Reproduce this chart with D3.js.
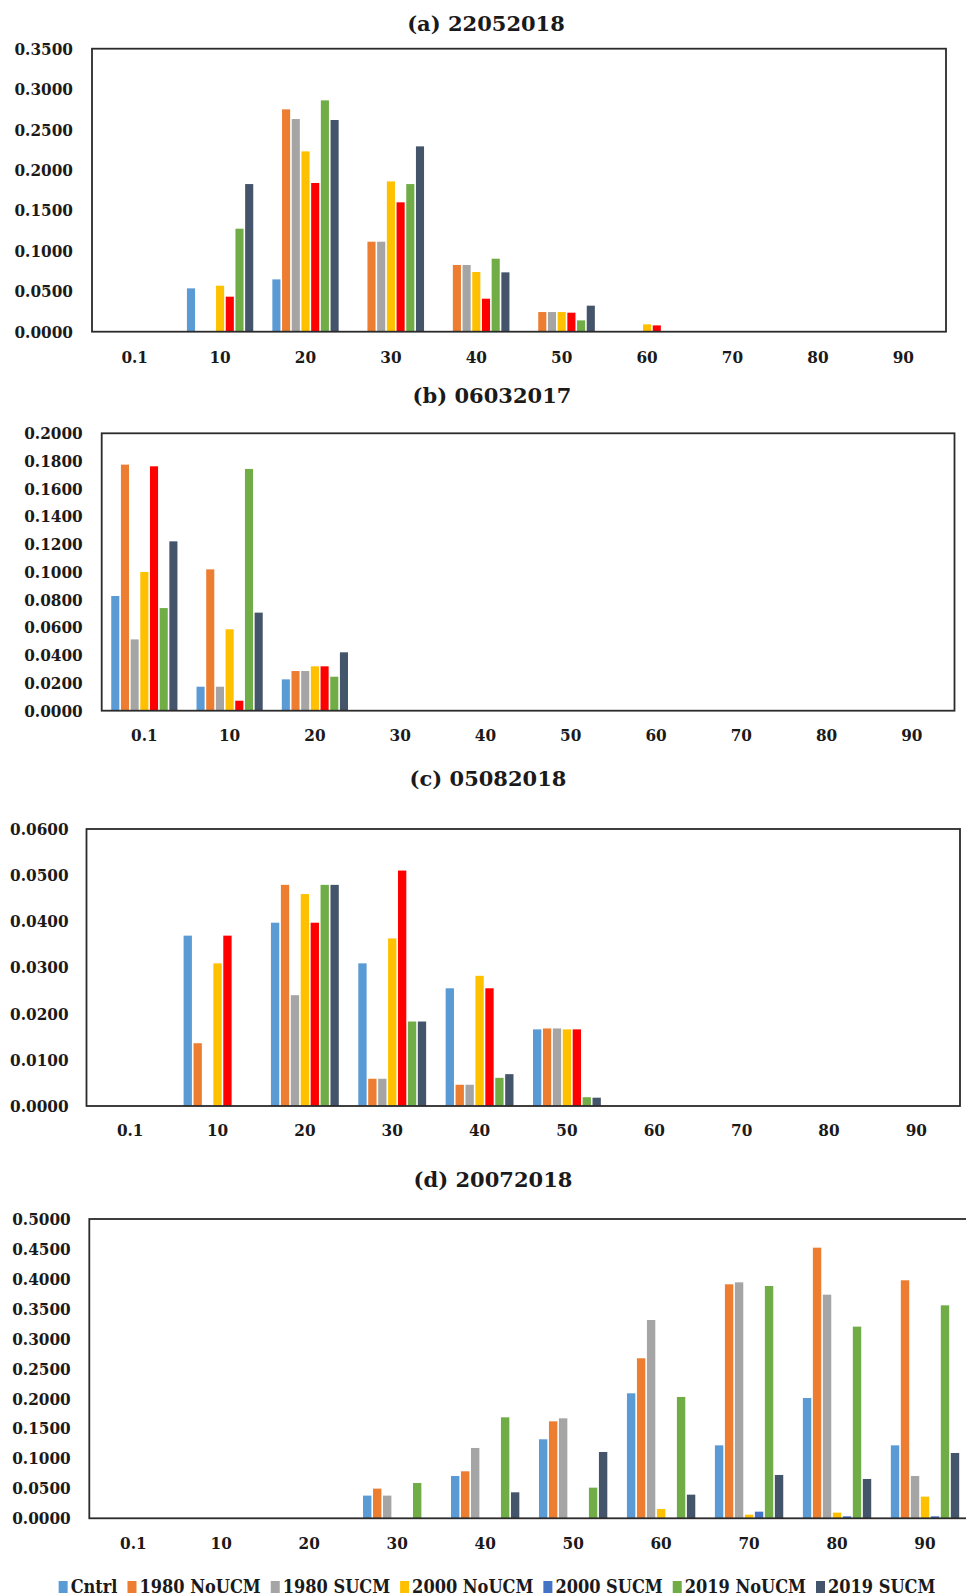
<!DOCTYPE html>
<html>
<head>
<meta charset="utf-8">
<script src="https://cdn.jsdelivr.net/npm/d3@7"></script>
<style>
    body { margin: 0; background: #fff; }
    svg text { font-family: "DejaVu Serif Condensed", "DejaVu Serif", serif; font-weight: bold; fill: #1a1a1a; }
    svg .title { font-family: "DejaVu Serif", serif; }
</style>
</head>
<body>
<div id="chart"></div>
<script>
var categories = ['0.1', '10', '20', '30', '40', '50', '60', '70', '80', '90'];
var seriesNames = ['Cntrl', '1980 NoUCM', '1980 SUCM', '2000 NoUCM', '2000 SUCM', '2019 NoUCM', '2019 SUCM'];

// panels a-c draw "2000 SUCM" in red, panel d (and the legend) in blue
var colorsRed = ['#5B9BD5', '#ED7D31', '#A5A5A5', '#FFC000', '#FF0000', '#70AD47', '#44546A'];
var colorsBlue = ['#5B9BD5', '#ED7D31', '#A5A5A5', '#FFC000', '#4472C4', '#70AD47', '#44546A'];

// one row per series (same order as seriesNames), one value per category
var values22052018 = [
    [0, 0.0536, 0.0647, 0, 0, 0, 0, 0, 0, 0],
    [0, 0, 0.2750, 0.1113, 0.0825, 0.0243, 0, 0, 0, 0],
    [0, 0, 0.2630, 0.1113, 0.0825, 0.0243, 0, 0, 0, 0],
    [0, 0.0569, 0.2230, 0.1859, 0.0738, 0.0243, 0.0091, 0, 0, 0],
    [0, 0.0433, 0.1839, 0.1600, 0.0408, 0.0235, 0.0078, 0, 0, 0],
    [0, 0.1274, 0.2861, 0.1826, 0.0903, 0.0140, 0, 0, 0, 0],
    [0, 0.1826, 0.2618, 0.2292, 0.0734, 0.0322, 0, 0, 0, 0]
];

var values06032017 = [
    [0.0827, 0.0173, 0.0226, 0, 0, 0, 0, 0, 0, 0],
    [0.1774, 0.1019, 0.0286, 0, 0, 0, 0, 0, 0, 0],
    [0.0514, 0.0173, 0.0286, 0, 0, 0, 0, 0, 0, 0],
    [0.1000, 0.0587, 0.0320, 0, 0, 0, 0, 0, 0, 0],
    [0.1762, 0.0072, 0.0320, 0, 0, 0, 0, 0, 0, 0],
    [0.0740, 0.1743, 0.0245, 0, 0, 0, 0, 0, 0, 0],
    [0.1221, 0.0707, 0.0421, 0, 0, 0, 0, 0, 0, 0]
];

var values05082018 = [
    [0, 0.0369, 0.0397, 0.0309, 0.0255, 0.0166, 0, 0, 0, 0],
    [0, 0.0136, 0.0479, 0.0059, 0.0046, 0.0168, 0, 0, 0, 0],
    [0, 0, 0.0240, 0.0059, 0.0046, 0.0168, 0, 0, 0, 0],
    [0, 0.0309, 0.0459, 0.0363, 0.0282, 0.0166, 0, 0, 0, 0],
    [0, 0.0369, 0.0397, 0.0510, 0.0255, 0.0166, 0, 0, 0, 0],
    [0, 0, 0.0479, 0.0183, 0.0061, 0.0019, 0, 0, 0, 0],
    [0, 0, 0.0479, 0.0183, 0.0069, 0.0018, 0, 0, 0, 0]
];

var values20072018 = [
    [0, 0, 0, 0.0379, 0.0707, 0.1320, 0.2088, 0.1219, 0.2010, 0.1219],
    [0, 0, 0, 0.0496, 0.0785, 0.1620, 0.2673, 0.3909, 0.4521, 0.3976],
    [0, 0, 0, 0.0379, 0.1175, 0.1670, 0.3313, 0.3942, 0.3736, 0.0707],
    [0, 0, 0, 0, 0, 0, 0.0156, 0.0061, 0.0095, 0.0362],
    [0, 0, 0, 0, 0, 0, 0, 0.0111, 0.0033, 0.0033],
    [0, 0, 0, 0.0590, 0.1687, 0.0512, 0.2027, 0.3881, 0.3202, 0.3558],
    [0, 0, 0, 0, 0.0434, 0.1108, 0.0395, 0.0724, 0.0657, 0.1091]
];

var panels = [
    {title: '(a) 22052018', values: values22052018, colors: colorsRed, yMax: 0.35, yStep: 0.05,
     left: 92, right: 946, top: 48.7, bottom: 331.7, labelRight: 73, xLabelY: 356.7, titleX: 486, titleY: 23.5},
    {title: '(b) 06032017', values: values06032017, colors: colorsRed, yMax: 0.2, yStep: 0.02,
     left: 101.7, right: 954.5, top: 433.3, bottom: 710.7, labelRight: 82.7, xLabelY: 735, titleX: 492, titleY: 395.5},
    {title: '(c) 05082018', values: values05082018, colors: colorsRed, yMax: 0.06, yStep: 0.01,
     left: 86.5, right: 960, top: 829, bottom: 1106, labelRight: 68.6, xLabelY: 1130, titleX: 488, titleY: 778.5},
    {title: '(d) 20072018', values: values20072018, colors: colorsBlue, yMax: 0.5, yStep: 0.05,
     left: 89.3, right: 969, top: 1219, bottom: 1518.3, labelRight: 70.7, xLabelY: 1543, titleX: 493, titleY: 1179.5}
];

var W = 966, H = 1596,
    tickFont = 17,
    titleFont = 21,
    legendFont = 18;

var svg = d3.select('#chart').append('svg')
    .attr('width', W)
    .attr('height', H);

svg.append('rect').attr('width', W).attr('height', H).attr('fill', '#fff');

panels.forEach(function(p) {
    var g = svg.append('g');

    var x = d3.scaleBand()
        .domain(categories)
        .range([p.left, p.right])
        .paddingInner(0.205)
        .paddingOuter(0.1025);

    var x1 = d3.scaleBand()
        .domain(d3.range(seriesNames.length))
        .range([0, x.bandwidth()]);

    var y = d3.scaleLinear()
        .domain([0, p.yMax])
        .range([p.bottom, p.top]);

    g.append('text')
        .attr('class', 'title')
        .attr('x', p.titleX)
        .attr('y', p.titleY)
        .attr('text-anchor', 'middle')
        .attr('dy', '0.35em')
        .style('font-size', titleFont + 'px')
        .text(p.title);

    // bars
    var rows = [];
    p.values.forEach(function(vals, si) {
        vals.forEach(function(v, ci) {
            if (v > 0) rows.push({s: si, c: categories[ci], v: v});
        });
    });

    g.append('g').selectAll('rect')
        .data(rows)
        .enter().append('rect')
        .attr('x', function(d) { return x(d.c) + x1(d.s) + 0.8; })
        .attr('width', x1.bandwidth() - 1.6)
        .attr('y', function(d) { return y(d.v); })
        .attr('height', function(d) { return p.bottom - y(d.v); })
        .attr('fill', function(d) { return p.colors[d.s]; });

    // y axis labels
    var yTicks = d3.range(0, p.yMax + p.yStep / 2, p.yStep);
    var yAxis = g.append('g')
        .attr('transform', 'translate(' + p.left + ',0)')
        .call(d3.axisLeft(y)
            .tickValues(yTicks)
            .tickSize(0)
            .tickPadding(p.left - p.labelRight)
            .tickFormat(d3.format('.4f')));
    yAxis.select('.domain').remove();
    yAxis.selectAll('text').style('font-size', tickFont + 'px').attr('fill', null);

    // x axis labels
    var xAxis = g.append('g')
        .attr('transform', 'translate(0,' + p.bottom + ')')
        .call(d3.axisBottom(x)
            .tickSize(0)
            .tickPadding(p.xLabelY - p.bottom - tickFont * 0.36));
    xAxis.select('.domain').remove();
    xAxis.selectAll('text').style('font-size', tickFont + 'px').attr('fill', null);

    // plot frame
    g.append('rect')
        .attr('x', p.left)
        .attr('y', p.top)
        .attr('width', p.right - p.left)
        .attr('height', p.bottom - p.top)
        .attr('fill', 'none')
        .attr('stroke', '#2b2b2b')
        .attr('stroke-width', 1.8);
});

// legend, centred under the last panel
var legY = 1587, legCenter = 497, sw = 9, sh = 12, txtGap = 3, itemGap = 10;
var leg = svg.append('g').attr('class', 'legend');
var items = leg.selectAll('g')
    .data(seriesNames)
    .enter().append('g');

items.append('rect')
    .attr('width', sw)
    .attr('height', sh)
    .attr('y', legY - sh / 2)
    .attr('fill', function(d, i) { return colorsBlue[i]; });

items.append('text')
    .attr('x', sw + txtGap)
    .attr('y', legY)
    .attr('dy', '0.35em')
    .style('font-size', legendFont + 'px')
    .text(function(d) { return d; });

var offs = [], cur = 0;
items.each(function() {
    offs.push(cur);
    cur += sw + txtGap + d3.select(this).select('text').node().getComputedTextLength() + itemGap;
});
var total = cur - itemGap;
items.attr('transform', function(d, i) {
    return 'translate(' + (legCenter - total / 2 + offs[i]) + ',0)';
});
</script>
</body>
</html>
